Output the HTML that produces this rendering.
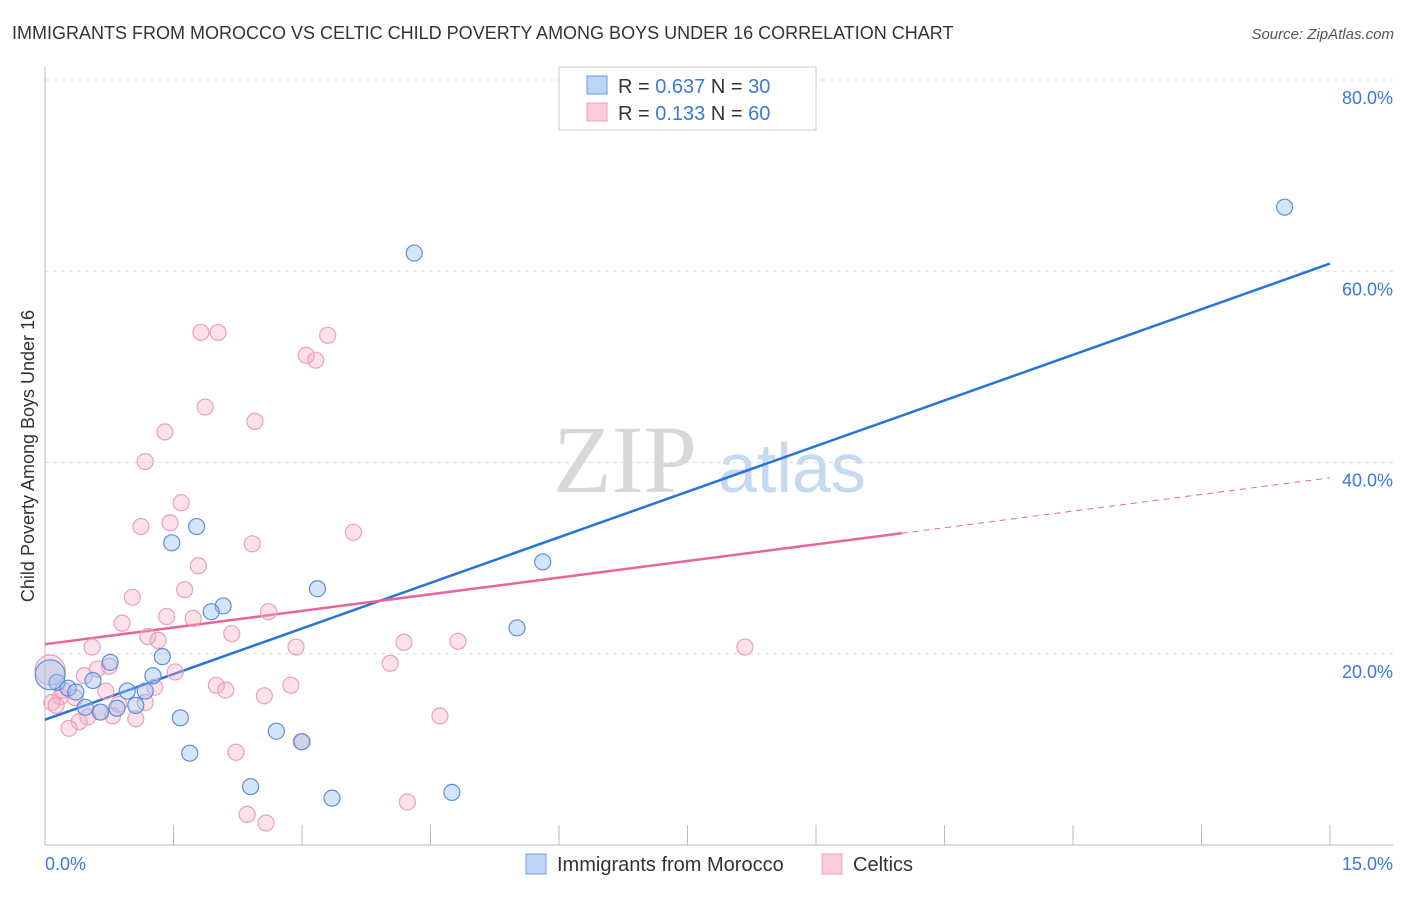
<!DOCTYPE html>
<html><head><meta charset="utf-8"><style>
body{margin:0;background:#fff;font-family:"Liberation Sans",sans-serif}
</style></head><body>
<svg id="chart" width="1406" height="892" xmlns="http://www.w3.org/2000/svg" style="font-family:'Liberation Sans',sans-serif">
<text x="12" y="39" font-size="18" fill="#333">IMMIGRANTS FROM MOROCCO VS CELTIC CHILD POVERTY AMONG BOYS UNDER 16 CORRELATION CHART</text>
<text x="1394" y="39" font-size="15" fill="#555" font-style="italic" text-anchor="end">Source: ZipAtlas.com</text>
<g>
<text x="553" y="492" font-size="96" font-family="'Liberation Serif',serif" fill="#d8d8d8">ZIP</text>
<text x="718" y="492" font-size="70" fill="#c5d9f0">atlas</text>
</g>
<g id="grid"></g>
<g id="axes"></g>
<text transform="translate(34,456) rotate(-90)" font-size="18" fill="#333" text-anchor="middle">Child Poverty Among Boys Under 16</text>
<g id="lines"></g>
<g id="points"></g>
<g>
<rect x="559" y="67" width="257" height="63" fill="#fff" stroke="#ccc"/>
<rect x="587" y="76" width="20" height="18" fill="#bcd4f5" stroke="#6a9be0"/>
<rect x="587" y="103" width="20" height="18" fill="#fbcbd9" stroke="#eca2bb"/>
<text x="618" y="93" font-size="20" fill="#333">R = <tspan fill="#3b78d8">0.637</tspan>   N = <tspan fill="#3b78d8">30</tspan></text>
<text x="618" y="120" font-size="20" fill="#333">R =  <tspan fill="#3b78d8">0.133</tspan>   N = <tspan fill="#3b78d8">60</tspan></text>
</g>
<g>
<rect x="526" y="854" width="20" height="20" fill="#bcd4f5" stroke="#6a9be0"/>
<text x="557" y="871" font-size="20" fill="#333">Immigrants from Morocco</text>
<rect x="822" y="854" width="20" height="20" fill="#fbcbd9" stroke="#eca2bb"/>
<text x="853" y="871" font-size="20" fill="#333">Celtics</text>
</g>
</svg>
<script>
const yTicks=[20,40,60,80];
const yTickLabels=["20.0%","40.0%","60.0%","80.0%"];
const xTicks=[0,1.5,3,4.5,6,7.5,9,10.5,12,13.5,15];
const moroccoX=[4.31,14.47,1.48,1.77,3.18,5.81,2.08,1.94,5.51,1.37,0.76,1.26,0.56,0.14,0.27,0.36,0.96,1.17,0.84,1.06,0.65,1.58,2.70,3.00,1.69,2.40,3.35,4.75,0.06,0.47];
const moroccoY=[61.9,66.7,31.6,33.3,26.8,29.6,25.0,24.4,22.7,19.7,19.1,17.7,17.2,17.0,16.4,16.0,16.1,16.1,14.3,14.6,13.9,13.3,11.9,10.8,9.6,6.1,4.9,5.5,17.8,14.4];
const moroccoR=[8,8,8,8,8,8,8,8,8,8,8,8,8,8,8,8,8,8,8,8,8,8,8,8,8,8,8,8,15,8];
const celticX=[1.82,2.02,3.30,3.05,3.16,1.87,2.45,1.40,1.17,1.59,1.12,1.46,3.60,2.42,1.79,1.63,1.02,2.61,1.42,1.73,0.90,1.20,1.32,2.18,2.93,4.19,4.82,8.17,0.55,4.03,0.75,0.61,1.52,0.46,1.28,2.00,2.11,0.71,2.56,2.87,0.35,0.18,0.08,0.13,0.86,1.17,4.61,0.50,0.79,1.06,0.40,0.28,2.23,2.99,2.36,2.58,4.23,0.06,0.21,0.64];
const celticY=[53.6,53.6,53.3,51.2,50.7,45.8,44.3,43.2,40.1,35.8,33.3,33.7,32.7,31.5,29.2,26.7,25.9,24.4,23.9,23.7,23.2,21.8,21.4,22.1,20.7,21.2,21.3,20.7,20.7,19.0,18.7,18.4,18.1,17.7,16.5,16.7,16.2,16.1,15.6,16.7,15.4,15.5,14.9,14.6,14.7,14.9,13.5,13.4,13.5,13.2,12.9,12.2,9.7,10.8,3.2,2.3,4.5,18.3,16.2,13.9];
const celticR=celticX.map((_,i)=>i===57?15:8);
const moroccoFit=[13.1,3.18]; // intercept, slope per %
const celticFit=[21.0,1.16];
const celticSolidEnd=10.0;
const X=v=>45+v*1285/15, Y=v=>845-v*765/80;
const NS="http://www.w3.org/2000/svg";
function mk(tag,attrs,parent){const e=document.createElementNS(NS,tag);for(const k in attrs)e.setAttribute(k,attrs[k]);parent.appendChild(e);return e;}
const grid=document.getElementById('grid'),axes=document.getElementById('axes'),lines=document.getElementById('lines'),pts=document.getElementById('points');
yTicks.forEach((t,i)=>{
 const g=mk('line',{x1:45,x2:1393,y1:Y(t),y2:Y(t),stroke:'#ddd','stroke-dasharray':'4,4'},grid);
 
 
 const l=mk('text',{x:1393,y:Y(t)+24,'font-size':18,fill:'#3b78d8','text-anchor':'end'},axes);
 l.textContent=yTickLabels[i];
 
 
});
mk('line',{x1:45,x2:45,y1:67,y2:845,stroke:'#bbb'},axes);
mk('line',{x1:45,x2:1393,y1:845,y2:845,stroke:'#bbb'},axes);
xTicks.forEach(t=>{const tk=mk('line',{x1:X(t),x2:X(t),y1:825,y2:845,stroke:'#bbb'},axes);
 
 });
let a=mk('text',{x:45,y:870,'font-size':18,fill:'#3b78d8'},axes);a.textContent='0.0%';


a=mk('text',{x:1393,y:870,'font-size':18,fill:'#3b78d8','text-anchor':'end'},axes);a.textContent='15.0%';


function drawPts(xs,ys,rs,fill,stroke,name){xs.forEach((x,i)=>{const c=mk('circle',{cx:X(x),cy:Y(ys[i]),r:rs[i],fill:fill,stroke:stroke,'stroke-width':1.2},pts);
 
 });}
drawPts(celticX,celticY,celticR,'rgba(246,170,196,0.35)','#eb9fba','celtics-point');
drawPts(moroccoX,moroccoY,moroccoR,'rgba(150,190,240,0.4)','#5b8fd8','morocco-point');
let ln=mk('line',{x1:X(0),y1:Y(moroccoFit[0]),x2:X(15),y2:Y(moroccoFit[0]+moroccoFit[1]*15),stroke:'#2a72d8','stroke-width':2.5},lines);


ln=mk('line',{x1:X(0),y1:Y(celticFit[0]),x2:X(celticSolidEnd),y2:Y(celticFit[0]+celticFit[1]*celticSolidEnd),stroke:'#e8659a','stroke-width':2.5},lines);


ln=mk('line',{x1:X(celticSolidEnd),y1:Y(celticFit[0]+celticFit[1]*celticSolidEnd),x2:X(15),y2:Y(celticFit[0]+celticFit[1]*15),stroke:'#e8659a','stroke-width':1,'stroke-dasharray':'6,5'},lines);


</script>
</body></html>
